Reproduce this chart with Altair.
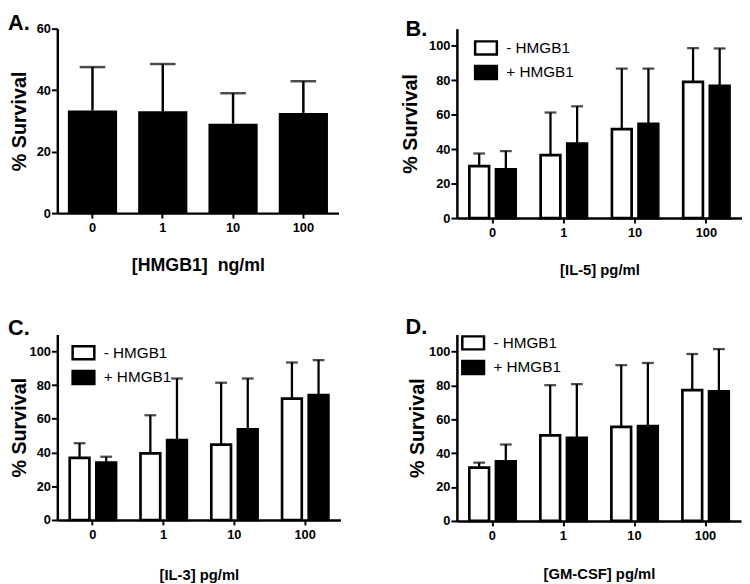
import altair as alt
import pandas as pd

doses = ["0", "1", "10", "100"]
groups = ["- HMGB1", "+ HMGB1"]

# Panel A: HMGB1 alone
a_mean = [33.4, 33.1, 29.1, 32.6]
a_err = [14.1, 15.4, 9.9, 10.3]

# Panel B: IL-5
b_minus_mean = [30.2, 36.6, 51.7, 79.1]
b_minus_err = [7.3, 24.7, 35.1, 19.6]
b_plus_mean = [28.3, 43.2, 54.7, 76.8]
b_plus_err = [10.6, 21.7, 32.1, 21.7]

# Panel C: IL-3
c_minus_mean = [36.8, 39.5, 44.7, 72.0]
c_minus_err = [8.7, 22.6, 36.7, 21.4]
c_plus_mean = [34.0, 47.4, 53.8, 74.1]
c_plus_err = [3.5, 36.5, 30.1, 20.7]

# Panel D: GM-CSF
d_minus_mean = [31.5, 50.5, 55.5, 77.2]
d_minus_err = [2.9, 29.6, 36.4, 21.3]
d_plus_mean = [35.2, 49.1, 55.9, 76.4]
d_plus_err = [9.9, 31.6, 37.3, 25.0]

FONT = "Liberation Sans"


def y_axis(values, title_x, height):
    return alt.Axis(
        title="% Survival", values=values, titleFontSize=20,
        titleFontWeight="bold", titleX=title_x, titleY=height / 2,
        titleBaseline="middle", titleAngle=270, titleAlign="center",
        tickSize=6, labelPadding=1, labelOverlap=False,
    )


def x_axis(title, size, title_y):
    return alt.Axis(
        title=title, titleFontSize=size, titleFontWeight="bold", titleY=title_y,
        titleBaseline="alphabetic", labelAngle=0, tickSize=5, labelPadding=4,
        labelOverlap=False,
    )


def panel_a():
    df = pd.DataFrame({"dose": doses, "mean": a_mean, "err": a_err})
    df["upper"] = df["mean"] + df["err"]
    w, h = 285, 187
    xs = alt.Scale(paddingInner=0.3, paddingOuter=0.15)
    xa = x_axis("[HMGB1] \u00a0ng/ml", 18, 58)
    ys = alt.Scale(domain=[0, 60], nice=False)
    ya = y_axis([0, 20, 40, 60], -38, h)
    x = alt.X("dose:N", sort=doses, scale=xs, axis=xa)
    base = alt.Chart(df)
    rule = base.mark_rule(color="black", strokeWidth=2.5).encode(
        x=x, y=alt.Y("mean:Q", scale=ys, axis=ya), y2="upper:Q")
    cap = base.mark_tick(color="black", size=26, thickness=2.5).encode(
        x=x, y=alt.Y("upper:Q", scale=ys, axis=ya))
    bars = base.mark_bar(color="black").encode(
        x=x, y=alt.Y("mean:Q", scale=ys, axis=ya))
    return alt.layer(rule, cap, bars).properties(
        width=w, height=h,
        title=alt.TitleParams("A.", anchor="start", frame="group", dx=-50, fontSize=22,
                              fontWeight="bold", offset=-12),
    )


def panel_grouped(letter, xtitle, mm, me, pm, pe, w, h, ytx, xty, lx, ly, rowpad, tdx, toff):
    df = pd.DataFrame({
        "dose": doses * 2,
        "group": [groups[0]] * 4 + [groups[1]] * 4,
        "mean": mm + pm,
        "err": me + pe,
    })
    df["upper"] = df["mean"] + df["err"]
    x = alt.X("dose:N", sort=doses,
              scale=alt.Scale(paddingInner=0.35, paddingOuter=0.175),
              axis=x_axis(xtitle, 15, xty))
    xo = alt.XOffset("group:N", sort=groups,
                     scale=alt.Scale(paddingInner=0.26, paddingOuter=0))
    ys = alt.Scale(domain=[0, 110], nice=False)
    ya = y_axis([0, 20, 40, 60, 80, 100], ytx, h)
    fill = alt.Fill(
        "group:N", sort=groups,
        scale=alt.Scale(domain=groups, range=["white", "black"]),
        legend=alt.Legend(
            title=None, orient="none", legendX=lx, legendY=ly,
            symbolType="M-1,-0.6H1V0.6H-1Z", symbolSize=484,
            symbolStrokeColor="black", symbolStrokeWidth=2.5,
            labelFontSize=15.5, labelFont=FONT, labelColor="black",
            labelOffset=8, rowPadding=rowpad, padding=0,
        ),
    )
    base = alt.Chart(df)
    rule = base.mark_rule(color="black", strokeWidth=2.3).encode(
        x=x, xOffset=xo, y=alt.Y("mean:Q", scale=ys, axis=ya), y2="upper:Q")
    cap = base.mark_tick(color="black", size=12, thickness=2.3).encode(
        x=x, xOffset=xo, y=alt.Y("upper:Q", scale=ys, axis=ya))
    bars = base.mark_bar(stroke="black", strokeWidth=2.7).encode(
        x=x, xOffset=xo, y=alt.Y("mean:Q", scale=ys, axis=ya), fill=fill)
    return alt.layer(rule, cap, bars).properties(
        width=w, height=h,
        title=alt.TitleParams(letter, anchor="start", frame="group", dx=tdx, fontSize=22,
                              fontWeight="bold", offset=toff),
    )


A = panel_a()
B = panel_grouped("B.", "[IL-5] pg/ml", b_minus_mean, b_minus_err, b_plus_mean, b_plus_err,
                  289, 192, -47, 57, 17, 7, -1, -52, -12)
C = panel_grouped("C.", "[IL-3] pg/ml", c_minus_mean, c_minus_err, c_plus_mean, c_plus_err,
                  287, 188, -38, 60, 14, 6, -1, -50, -6)
D = panel_grouped("D.", "[GM-CSF] pg/ml", d_minus_mean, d_minus_err, d_plus_mean, d_plus_err,
                  288, 189, -40, 58, 4, -4, -3, -52, -9)

chart = alt.concat(A, B, C, D, columns=2, spacing=118, bounds="flush").resolve_scale(
    fill="independent", x="independent", y="independent"
).resolve_legend(fill="independent").properties(padding=0).configure(
    font=FONT
).configure_view(stroke=None).configure_axis(
    grid=False, domainColor="black", domainWidth=2.5, tickColor="black", tickWidth=2,
    labelColor="black", labelFontWeight="bold", labelFontSize=13, titleColor="black",
    labelFont=FONT, titleFont=FONT, labelOverlap=False,
).configure_title(color="black", font=FONT)

chart.save("out.html", embed_options={"renderer": "svg", "actions": False})
